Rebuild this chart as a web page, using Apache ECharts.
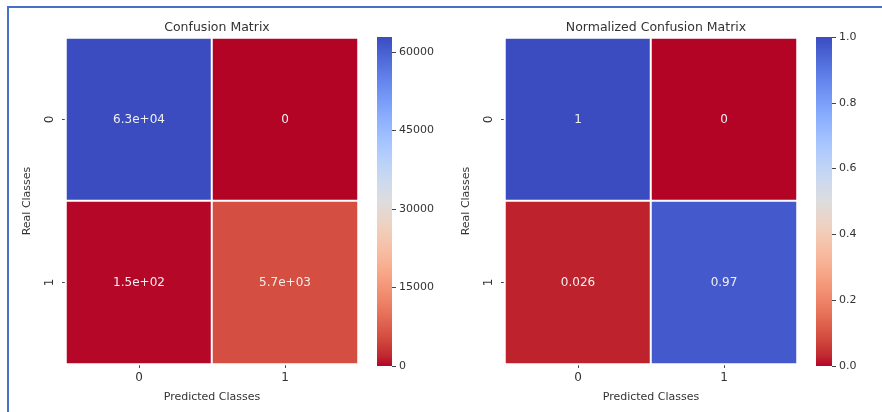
<!DOCTYPE html>
<html>
<head>
<meta charset="utf-8">
<script src="https://cdn.jsdelivr.net/npm/echarts@6/dist/echarts.min.js"></script>
<style>html,body{margin:0;padding:0;background:#fff}#c{width:882px;height:412px}</style>
</head>
<body>
<div id="c"></div>
<script>
// ---- data ----
var predictedClasses = ['0', '1'];
var realClasses = ['0', '1'];
var countsRow0 = [62870, 0];
var countsRow1 = [150, 5700];
var normRow0 = [1, 0];
var normRow1 = [0.026, 0.97];
var countTicks = [0, 15000, 30000, 45000, 60000];
var normTicks = [0, 0.2, 0.4, 0.6, 0.8, 1.0];
var titles = ['Confusion Matrix', 'Normalized Confusion Matrix'];

// coolwarm (index 0 = blue end)
var coolwarm = [
 [59,76,192],[68,90,204],[77,104,215],[87,117,225],[98,130,234],[108,142,241],[119,154,247],[130,165,251],
 [141,176,254],[152,185,255],[163,194,255],[174,201,253],[184,208,249],[194,213,244],[204,217,238],[213,219,230],
 [221,221,221],[229,216,209],[236,211,197],[241,204,184],[245,196,172],[247,187,160],[247,177,148],[247,166,135],
 [244,154,123],[241,141,111],[236,127,99],[229,112,88],[222,96,77],[213,80,66],[203,62,56],[192,40,47],[180,4,38]
];
// reversed: low value -> red, high -> blue
var cmap = coolwarm.slice().reverse().map(function (c) { return 'rgb(' + c.join(',') + ')'; });
function gradient() {
  return new echarts.graphic.LinearGradient(0, 1, 0, 0,
    cmap.map(function (c, i) { return { offset: i / (cmap.length - 1), color: c }; }));
}

function buildCells(r0, r1) {
  var out = [];
  [r0, r1].forEach(function (row, y) { row.forEach(function (v, x) { out.push([x, y, v]); }); });
  return out;
}
function fmtG(v) {
  if (v === 0) return '0';
  var e = Math.floor(Math.log10(Math.abs(v)));
  if (e < -4 || e >= 2) {
    var s = v.toExponential(1).split('e');
    var ex = parseInt(s[1], 10);
    var sign = ex < 0 ? '-' : '+';
    var ab = Math.abs(ex);
    return s[0] + 'e' + sign + (ab < 10 ? '0' : '') + ab;
  }
  return String(parseFloat(v.toPrecision(2)));
}

var countCells = buildCells(countsRow0, countsRow1);
var normCells = buildCells(normRow0, normRow1);
var countMax = Math.max.apply(null, countsRow0.concat(countsRow1));
var normMax = Math.max.apply(null, normRow0.concat(normRow1));

var txt = '#333';
var font = 'DejaVu Sans';
var grids = [
  { left: 66, top: 38, width: 292, height: 326 },
  { left: 505, top: 38, width: 292, height: 326 },
  { left: 377, top: 37, width: 15, height: 329 },
  { left: 816, top: 37, width: 16, height: 329 }
];

function catX(i) {
  return {
    type: 'category', gridIndex: i, data: predictedClasses, position: 'bottom',
    name: 'Predicted Classes', nameLocation: 'middle', nameGap: 28,
    nameTextStyle: { color: txt, fontSize: 11, fontFamily: font },
    axisLine: { show: false },
    axisTick: { show: true, alignWithLabel: true, length: 4, lineStyle: { color: '#444' } },
    axisLabel: { color: txt, fontSize: 12, fontFamily: font, margin: 8 },
    splitLine: { show: false }
  };
}
function catY(i) {
  return {
    type: 'category', gridIndex: i, data: realClasses, inverse: true,
    name: 'Real Classes', nameLocation: 'middle', nameGap: 33,
    nameTextStyle: { color: txt, fontSize: 11, fontFamily: font },
    axisLine: { show: false },
    axisTick: { show: true, alignWithLabel: true, length: 4, lineStyle: { color: '#444' } },
    axisLabel: { color: txt, fontSize: 12, fontFamily: font, rotate: 90, margin: 10 },
    splitLine: { show: false }
  };
}
function cbX(i) {
  return { type: 'category', gridIndex: i, data: [''], show: false, boundaryGap: true };
}
function cbY(i, max, ticks, dec) {
  return {
    type: 'value', gridIndex: i, min: 0, max: max, position: 'right',
    axisLine: { show: false },
    axisTick: { show: true, length: 4, lineStyle: { color: '#444' }, customValues: ticks },
    axisLabel: { color: txt, fontSize: 11, fontFamily: font, margin: 7, customValues: ticks,
      formatter: function (v) { return dec ? v.toFixed(dec) : String(v); } },
    splitLine: { show: false }
  };
}

var labelStyle = {
  show: true, color: '#f0f0f0', fontSize: 12, fontFamily: font,
  formatter: function (p) { return fmtG(p.value[2]); }
};

var option = {
  backgroundColor: '#fff',
  animation: false,
  title: [
    { text: titles[0], left: 212, top: 16, textAlign: 'center',
      textStyle: { color: txt, fontSize: 12.5, fontWeight: 'normal', fontFamily: font } },
    { text: titles[1], left: 651, top: 16, textAlign: 'center',
      textStyle: { color: txt, fontSize: 12.5, fontWeight: 'normal', fontFamily: font } }
  ],
  grid: grids,
  xAxis: [catX(0), catX(1), cbX(2), cbX(3)],
  yAxis: [catY(0), catY(1), cbY(2, countMax, countTicks, 0), cbY(3, normMax, normTicks, 1)],
  visualMap: [
    { type: 'continuous', show: false, seriesIndex: 0, min: 0, max: countMax, inRange: { color: cmap } },
    { type: 'continuous', show: false, seriesIndex: 1, min: 0, max: normMax, inRange: { color: cmap } }
  ],
  series: [
    { type: 'heatmap', xAxisIndex: 0, yAxisIndex: 0, data: countCells,
      itemStyle: { borderColor: '#fff', borderWidth: 2 }, label: labelStyle },
    { type: 'heatmap', xAxisIndex: 1, yAxisIndex: 1, data: normCells,
      itemStyle: { borderColor: '#fff', borderWidth: 2 }, label: labelStyle },
    { type: 'bar', xAxisIndex: 2, yAxisIndex: 2, data: [countMax], barWidth: '100%', silent: true,
      itemStyle: { color: gradient() } },
    { type: 'bar', xAxisIndex: 3, yAxisIndex: 3, data: [normMax], barWidth: '100%', silent: true,
      itemStyle: { color: gradient() } }
  ],
  graphic: [
    { type: 'line', shape: { x1: 7, y1: 7, x2: 882, y2: 7 }, style: { stroke: '#4472c4', lineWidth: 2 }, silent: true },
    { type: 'line', shape: { x1: 8, y1: 6, x2: 8, y2: 412 }, style: { stroke: '#4472c4', lineWidth: 2 }, silent: true }
  ]
};

var chart = echarts.init(document.getElementById('c'), null, { renderer: 'canvas' });
chart.setOption(option);
</script>
</body>
</html>
